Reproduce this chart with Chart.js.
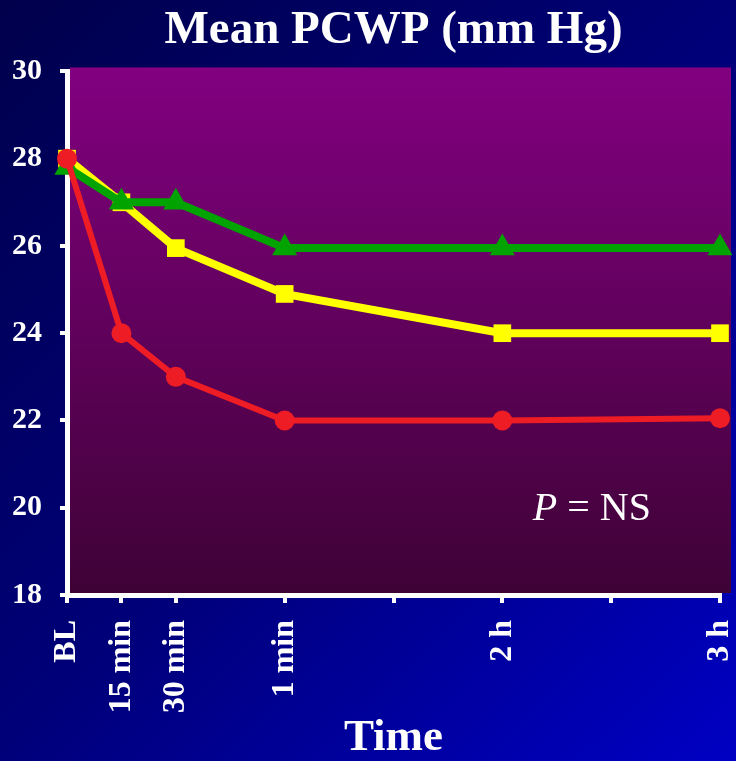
<!DOCTYPE html>
<html>
<head>
<meta charset="utf-8">
<script src="https://cdn.jsdelivr.net/npm/chart.js@4/dist/chart.umd.min.js"></script>
<style>
  html, body { margin: 0; padding: 0; background: #000060; }
  #chart { display: block; }
</style>
</head>
<body>
<canvas id="chart" width="736" height="761"></canvas>
<script>
// time points in hours (BL = 0)
const timePoints = [0, 0.25, 0.5, 1, 2, 3];
const tickValues = [0, 0.25, 0.5, 1, 1.5, 2, 2.5, 3];
const tickLabels = ['BL', '15 min', '30 min', '1 min', '', '2 h', '', '3 h'];

const greenValues = [27.8, 27, 27, 25.95, 25.95, 25.95];
const yellowValues = [28, 27, 25.95, 24.9, 24, 24];
const redValues = [28, 24, 23, 22, 22, 22.05];

const titleText = 'Mean PCWP (mm Hg)';
const xTitle = 'Time';
const noteX = 2.14;   // where the "P = NS" note sits, in data units
const noteY = 19.72;

const serif = '"Liberation Serif", "Times New Roman", serif';

function toPoints(values) {
    return values.map((v, i) => ({ x: timePoints[i], y: v }));
}

// dark blue slide background + purple plot panel
const backgroundPlugin = {
    id: 'slideBackground',
    beforeDraw(chart) {
        const { ctx, width, height, chartArea } = chart;
        ctx.save();
        const bg = ctx.createLinearGradient(0, 0, width, height);
        bg.addColorStop(0, '#00004c');
        bg.addColorStop(0.5, '#000078');
        bg.addColorStop(1, '#0000c4');
        ctx.fillStyle = bg;
        ctx.fillRect(0, 0, width, height);

        const top = chartArea.top - 4;
        const bottom = chartArea.bottom - 2;
        const panel = ctx.createLinearGradient(0, top, 0, bottom);
        panel.addColorStop(0, '#820080');
        panel.addColorStop(1, '#3e0236');
        ctx.fillStyle = panel;
        ctx.fillRect(chartArea.left + 3, top, chartArea.right - chartArea.left + 8, bottom - top);
        ctx.restore();
    }
};

// "P = NS" note inside the plot
const notePlugin = {
    id: 'pNote',
    afterDatasetsDraw(chart) {
        const { ctx, scales } = chart;
        const x = scales.x.getPixelForValue(noteX);
        const y = scales.y.getPixelForValue(noteY);
        ctx.save();
        ctx.fillStyle = '#ffffff';
        ctx.textBaseline = 'alphabetic';
        ctx.textAlign = 'left';
        ctx.font = 'italic 40px ' + serif;
        ctx.fillText('P', x, y);
        const w = ctx.measureText('P').width;
        ctx.font = '40px ' + serif;
        ctx.fillText(' = NS', x + w, y);
        ctx.restore();
    }
};

new Chart(document.getElementById('chart'), {
    type: 'line',
    data: {
        datasets: [
            {
                label: 'red',
                data: toPoints(redValues),
                borderColor: '#ee1c24',
                backgroundColor: '#ee1c24',
                borderWidth: 6,
                pointStyle: 'circle',
                pointRadius: 10,
                pointBorderWidth: 0,
                clip: false
            },
            {
                label: 'green',
                data: toPoints(greenValues),
                borderColor: '#00a300',
                backgroundColor: '#00a300',
                borderWidth: 8,
                pointStyle: 'triangle',
                pointRadius: 14.5,
                pointBorderWidth: 0,
                clip: false
            },
            {
                label: 'yellow',
                data: toPoints(yellowValues),
                borderColor: '#ffff00',
                backgroundColor: '#ffff00',
                borderWidth: 8,
                pointStyle: 'rect',
                pointRadius: 12.5,
                pointBorderWidth: 0,
                clip: false
            }
        ]
    },
    plugins: [backgroundPlugin, notePlugin],
    options: {
        responsive: false,
        animation: false,
        devicePixelRatio: 1,
        layout: { padding: { left: 0, right: 16, top: 0, bottom: 0 } },
        elements: { line: { tension: 0 } },
        plugins: {
            legend: { display: false },
            tooltip: { enabled: false },
            title: {
                display: true,
                text: titleText,
                color: '#ffffff',
                fullSize: false,
                font: { family: serif, size: 47, weight: 'bold', lineHeight: 1.2 },
                padding: { top: 3, bottom: 12 }
            }
        },
        scales: {
            x: {
                type: 'linear',
                min: 0,
                max: 3,
                afterFit(scale) {
                    scale.height = 166;
                    scale.paddingLeft = 0;
                    scale.paddingRight = 0;
                },
                afterBuildTicks(scale) {
                    scale.ticks = tickValues.map(v => ({ value: v }));
                },
                grid: {
                    display: true,
                    drawOnChartArea: false,
                    drawTicks: true,
                    tickLength: 8,
                    color: '#ffffff',
                    lineWidth: 4
                },
                border: { display: true, color: '#ffffff', width: 5 },
                ticks: {
                    autoSkip: false,
                    minRotation: 90,
                    maxRotation: 90,
                    padding: 17,
                    color: '#ffffff',
                    font: { family: serif, size: 32, weight: 'bold' },
                    callback: function (value) {
                        const i = tickValues.indexOf(value);
                        return i >= 0 ? tickLabels[i] : '';
                    }
                },
                title: {
                    display: true,
                    text: xTitle,
                    color: '#ffffff',
                    font: { family: serif, size: 45, weight: 'bold', lineHeight: 1 },
                    padding: { top: 0, bottom: 0 }
                }
            },
            y: {
                min: 18,
                max: 30,
                afterFit(scale) { scale.width = 67; },
                grid: {
                    display: true,
                    drawOnChartArea: false,
                    drawTicks: true,
                    tickLength: 7,
                    color: '#ffffff',
                    lineWidth: 4
                },
                border: { display: true, color: '#ffffff', width: 5 },
                ticks: {
                    stepSize: 2,
                    padding: 18,
                    color: '#ffffff',
                    font: { family: serif, size: 30, weight: 'bold' }
                }
            }
        }
    }
});
</script>
</body>
</html>
